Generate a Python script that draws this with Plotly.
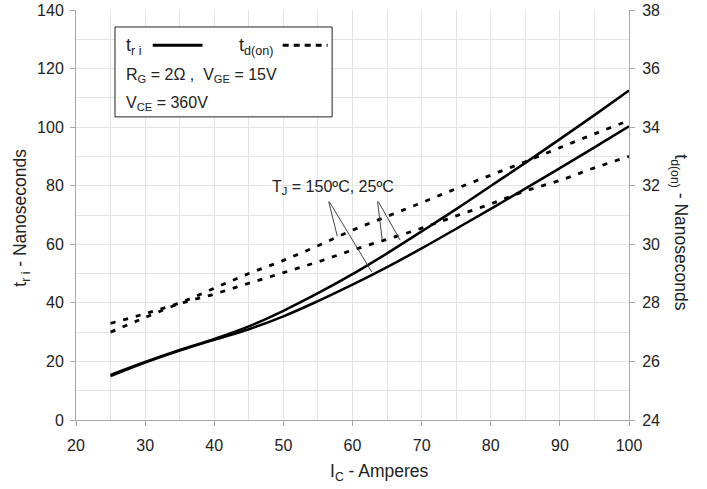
import plotly.graph_objects as go

# ---------------- data ----------------
ic = [25, 30, 35, 40, 45, 50, 55, 60, 65, 70, 75, 80, 85, 90, 95, 100]

tri_upper = [15.4, 19.8, 23.9, 27.7, 32.0, 37.3, 43.3, 49.8, 56.9, 64.4, 72.0, 79.9, 87.8, 95.9, 104.1, 112.5]
tri_lower = [15.0, 19.6, 23.7, 27.4, 31.0, 35.4, 40.6, 46.2, 52.2, 58.6, 65.3, 72.1, 79.0, 86.0, 93.1, 100.3]

tdon_upper = [27.30, 27.63, 28.00, 28.50, 29.00, 29.45, 29.95, 30.48, 30.95, 31.42, 31.90, 32.36, 32.82, 33.30, 33.77, 34.23]
tdon_lower = [27.00, 27.50, 27.97, 28.30, 28.67, 29.03, 29.40, 29.80, 30.17, 30.55, 30.97, 31.38, 31.82, 32.18, 32.61, 33.00]

x_ticks = [20, 30, 40, 50, 60, 70, 80, 90, 100]
y_ticks = [0, 20, 40, 60, 80, 100, 120, 140]
y2_ticks = [24, 26, 28, 30, 32, 34, 36, 38]

FONT = "Liberation Sans, Arial, sans-serif"
GRID = "#e4e4e4"
AXIS = "#a8a8a8"
DASH = "5px,8px"
TXT = "#222"

fig = go.Figure()
for ys in (tri_upper, tri_lower):
    fig.add_trace(go.Scatter(x=ic, y=ys, mode="lines", line=dict(color="black", width=2.5, shape="spline"),
                             showlegend=False, hoverinfo="skip"))
for ys in (tdon_upper, tdon_lower):
    fig.add_trace(go.Scatter(x=ic, y=ys, mode="lines", yaxis="y2",
                             line=dict(color="black", width=2.8, dash=DASH, shape="spline"),
                             showlegend=False, hoverinfo="skip"))

axis_common = dict(showline=True, linecolor=AXIS, linewidth=1, ticks="outside", tickcolor=AXIS,
                   ticklen=5, tickfont=dict(family=FONT, size=16, color=TXT), zeroline=False,
                   automargin=False)

fig.update_layout(
    width=707, height=489,
    margin=dict(l=76, r=78, t=10, b=69),
    paper_bgcolor="white", plot_bgcolor="white",
    font=dict(family=FONT, size=16, color=TXT),
    xaxis=dict(range=[20, 100], tickvals=x_ticks, showgrid=True, gridcolor=GRID,
               minor=dict(dtick=5, showgrid=True, gridcolor=GRID, ticks=""),
               ticklabelstandoff=6, **axis_common),
    yaxis=dict(range=[0, 140], tickvals=y_ticks, showgrid=True, gridcolor=GRID,
               minor=dict(dtick=10, showgrid=True, gridcolor=GRID, ticks=""),
               ticklabelstandoff=3, **axis_common),
    yaxis2=dict(range=[24, 38], tickvals=y2_ticks, overlaying="y", side="right", showgrid=False,
                ticklabelstandoff=4, **axis_common),
)

# axis titles
fig.add_annotation(xref="paper", yref="paper", x=0.548, y=-0.129, text="I<sub>C</sub> - Amperes",
                   showarrow=False, font=dict(size=17.5), xanchor="center", yanchor="middle")
fig.add_annotation(xref="paper", yref="paper", x=-0.098, y=0.493, text="t<sub>r i</sub> - Nanoseconds",
                   textangle=-90, showarrow=False, font=dict(size=17.5), xanchor="center", yanchor="middle")
fig.add_annotation(xref="paper", yref="paper", x=1.092, y=0.458, text="t<sub>d(on)</sub> - Nanoseconds",
                   textangle=90, showarrow=False, font=dict(size=17.5), xanchor="center", yanchor="middle")

# legend / conditions box
fig.add_shape(type="rect", xref="x", yref="y", x0=25.64, x1=57.05, y0=103.5, y1=134.2,
              line=dict(color="#222", width=1), fillcolor="white", layer="above")
fig.add_shape(type="line", xref="x", yref="y", x0=31.1, x1=38.3, y0=128.0, y1=128.0,
              line=dict(color="black", width=3), layer="above")
fig.add_shape(type="line", xref="x", yref="y", x0=49.9, x1=56.4, y0=128.0, y1=128.0,
              line=dict(color="black", width=3, dash="6px,5px"), layer="above")
fig.add_annotation(x=27.0, y=127.4, text="t<sub>r i</sub>", showarrow=False, xanchor="left", yanchor="middle",
                   font=dict(size=18))
fig.add_annotation(x=43.25, y=127.4, text="t<sub>d(on)</sub>", showarrow=False, xanchor="left", yanchor="middle",
                   font=dict(size=18))
fig.add_annotation(x=27.0, y=117.5, text="R<sub>G</sub> = 2Ω ,  V<sub>GE</sub> = 15V", showarrow=False,
                   xanchor="left", yanchor="middle", font=dict(size=16))
fig.add_annotation(x=27.0, y=108.0, text="V<sub>CE</sub> = 360V", showarrow=False,
                   xanchor="left", yanchor="middle", font=dict(size=16))

# temperature callout
fig.add_annotation(x=57.2, y=79.4, text="T<sub>J</sub> = 150ºC, 25ºC", showarrow=False,
                   xanchor="center", yanchor="middle", font=dict(size=16))
for (hx, hy, tx, ty) in [(57.8, 62.8, 56.5, 75.1), (62.8, 50.5, 56.5, 75.1),
                         (64.3, 61.4, 63.6, 75.1), (66.9, 61.4, 63.6, 75.1)]:
    fig.add_annotation(x=hx, y=hy, ax=tx, ay=ty, xref="x", yref="y", axref="x", ayref="y", text="",
                       showarrow=True, arrowhead=0, arrowwidth=1, arrowcolor="#444")

# remove the default 8px page margin so the figure sits at the window's top-left corner
fig.write_html("out.html", config={"displayModeBar": False},
               post_script="document.body.style.margin='0';")
